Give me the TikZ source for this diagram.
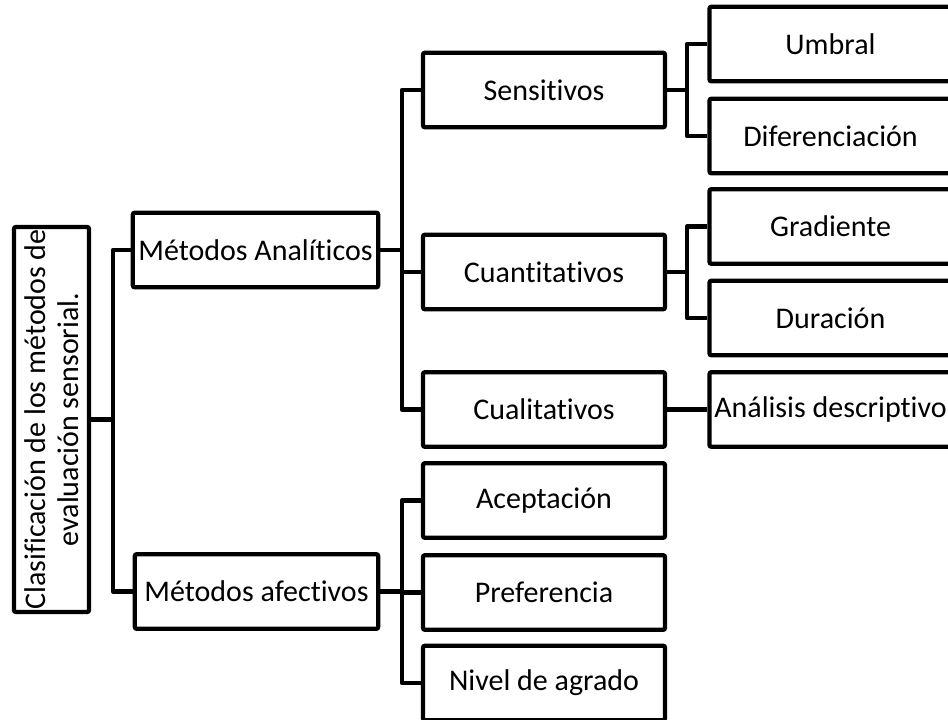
\documentclass[tikz,border=0pt]{standalone}
\usepackage{fontspec}
\setmainfont{Carlito}[Ligatures={NoCommon,NoContextual,NoRequired}]
\begin{document}
\begin{tikzpicture}[x=0.75pt,y=-0.75pt,
  box/.style={draw=black,line width=3.2pt,rounded corners=1.5pt,fill=white,
    inner sep=0pt,minimum width=181.5pt,minimum height=56pt,
    font=\fontsize{22.5}{27}\selectfont},
  link/.style={draw=black,line width=3.2pt,line join=round}]
\useasboundingbox (0,0) rectangle (948,719);
\fill[white] (0,0) rectangle (948,719);
\clip (0,0) rectangle (948,719);

% root, written sideways
\node[box,rotate=90,minimum width=288.75pt,minimum height=56.25pt,align=center,
  font=\fontsize{22.5}{24.5}\selectfont] (root) at (51.5,419.5)
  {Clasificación de los métodos de\\evaluación sensorial.};

% first level
\node[box,minimum width=184pt] (ma) at (255.5,250) {Métodos Analíticos};
\node[box,minimum width=182.5pt] (mf) at (256.5,591.5) {Métodos afectivos};

% second level
\node[box] (sen)  at (544,90)    {Sensitivos};
\node[box] (cuan) at (544,272)   {Cuantitativos};
\node[box] (cual) at (544,409.5) {Cualitativos};
\node[box] (acep) at (544,500.5) {Aceptación};
\node[box] (pref) at (544,592.5) {Preferencia};
\node[box] (niv)  at (544,683)   {Nivel de agrado};

% third level
\node[box] (umb)  at (830.5,44)    {Umbral};
\node[box] (dif)  at (830.5,136)   {Diferenciación};
\node[box] (grad) at (830.5,226.5) {Gradiente};
\node[box] (dur)  at (830.5,318)   {Duración};
\node[box] (anal) at (830.5,409.5) {Análisis descriptivo};

% bus junctions
\coordinate (j0) at (113,419.5);
\coordinate (j1) at (402,250);
\coordinate (j2) at (402,591.5);
\coordinate (j3) at (687,90);
\coordinate (j4) at (687,272);

% connectors
\draw[link] (root.south) -- (j0);
\draw[link] (ma.west) -| (j0) |- (mf.west);

\draw[link] (ma.east) -- (j1);
\draw[link] (sen.west) -| (j1) |- (cual.west);
\draw[link] (cuan.west) -- (cuan.west -| j1);

\draw[link] (mf.east) -- (j2);
\draw[link] (acep.west) -| (j2) |- (niv.west);
\draw[link] (pref.west) -- (pref.west -| j2);

\draw[link] (sen.east) -- (j3);
\draw[link] (umb.west) -| (j3) |- (dif.west);

\draw[link] (cuan.east) -- (j4);
\draw[link] (grad.west) -| (j4) |- (dur.west);

\draw[link] (cual.east) -- (anal.west);
\end{tikzpicture}
\end{document}
